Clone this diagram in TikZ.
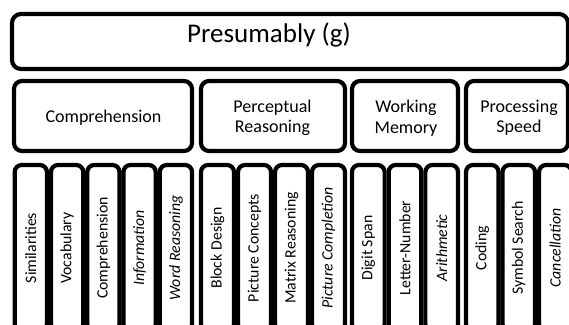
\documentclass[tikz,border=0pt]{standalone}
\usepackage{fontspec}
\setmainfont{Carlito}
\begin{document}
\begin{tikzpicture}[x=1pt,y=-1pt]
\tikzset{
  frame/.style={draw=black, line width=4.2pt, fill=white, rounded corners=9pt, inner sep=0pt},
  rowbox/.style={draw=black, line width=4.2pt, fill=white, rounded corners=8pt,
    minimum height=70pt, inner sep=0pt},
  rowtext/.style={align=center, inner sep=0pt, font=\fontsize{18}{20.5}\selectfont},
  subtest/.style={draw=black, line width=4.2pt, fill=white, rounded corners=7pt,
    rotate=90, minimum width=166pt, inner sep=0pt,
    font=\fontsize{15.8}{18}\selectfont},
  title/.style={font=\fontsize{27}{30}\selectfont, inner sep=0pt}
}
% subtest column: name, centre x, inner width, label
\newcommand\subcol[4]{\node[subtest, minimum height=#3pt] (#1) at (#2,248) {#4};}

\useasboundingbox (0,0) rectangle (569,324);
\clip (0,0) rectangle (569,324);

% general factor
\node[frame, minimum width=556pt, minimum height=55pt] (g) at (290,41.5) {};
\node[title, anchor=base] (gtext) at (269,42.5) {Presumably (g)};

% index scores
\node[rowbox, minimum width=178pt] (comp) at (103,116) {};
\node[rowbox, minimum width=144pt] (perc) at (273,116) {};
\node[rowbox, minimum width=106pt] (work) at (405,116) {};
\node[rowbox, minimum width=102pt] (proc) at (517,116) {};
\node[rowtext] (comptext) at (103.5,117.5) {Comprehension};
\node[rowtext] (perctext) at (272.5,118) {Perceptual\\Reasoning};
\node[rowtext] (worktext) at (406,118) {Working\\Memory};
\node[rowtext] (proctext) at (519,118) {Processing\\Speed};

% verbal comprehension subtests
\subcol{s1}{30.8}{32.26}{Similarities}
\subcol{s2}{67.1}{32.26}{Vocabulary}
\subcol{s3}{103.4}{32.26}{Comprehension}
\subcol{s4}{139.6}{32.26}{\itshape Information}
\subcol{s5}{175.9}{32.26}{\itshape Word Reasoning}

% perceptual reasoning subtests
\subcol{s6}{217.5}{33}{Block Design}
\subcol{s7}{254.5}{33}{Picture Concepts}
\subcol{s8}{291.5}{33}{Matrix Reasoning}
\subcol{s9}{328.5}{33}{\itshape Picture Completion}

% working memory subtests
\subcol{s10}{368.3}{32.67}{Digit Span}
\subcol{s11}{405}{32.67}{Letter-Number}
\subcol{s12}{441.7}{32.67}{\itshape Arithmetic}

% processing speed subtests
\subcol{s13}{482.25}{32.5}{Coding}
\subcol{s14}{518.75}{32.5}{Symbol Search}
\subcol{s15}{555.25}{32.5}{\itshape Cancellation}
\end{tikzpicture}
\end{document}
